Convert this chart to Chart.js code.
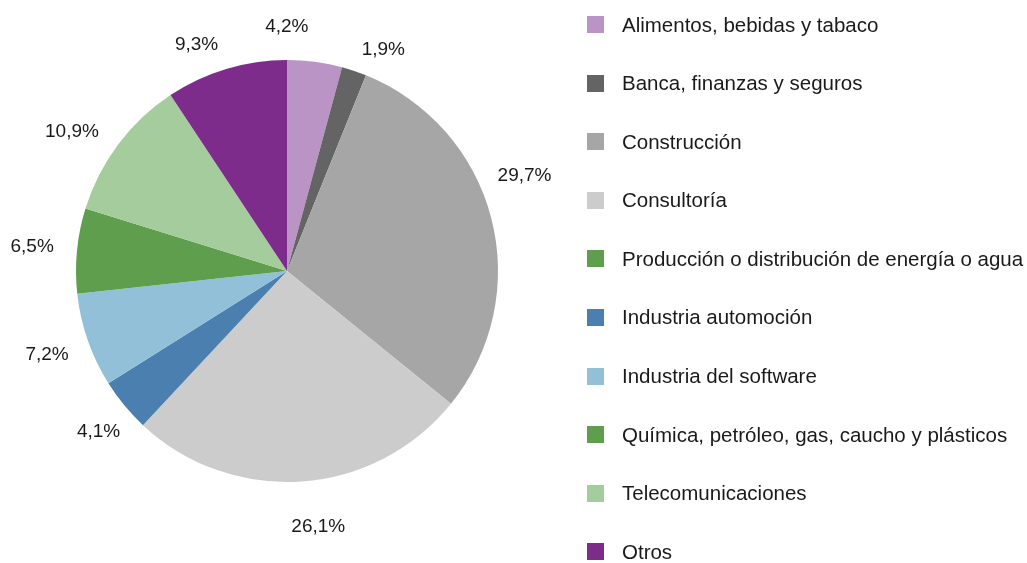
<!DOCTYPE html>
<html lang="es">
<head>
<meta charset="utf-8" />
<title>Sectores</title>
<script src="https://cdn.jsdelivr.net/npm/chart.js"></script>
<style>
  html, body { margin: 0; padding: 0; background: #ffffff; }
  .contenedor { position: relative; width: 1027px; height: 563px; }
  #grafico_sectores { position: absolute; left: 0; top: 0; }
  .leyenda {
    position: absolute; left: 587px; top: -4.8px;
    margin: 0; padding: 0; list-style: none;
    font-family: "Liberation Sans", Arial, sans-serif; font-size: 20.5px; color: #1a1a1a;
  }
  .leyenda li { height: 58.6px; display: flex; align-items: center; white-space: nowrap; }
  .leyenda span.caja { width: 17px; height: 17px; margin-right: 18px; flex: none; }
</style>
</head>
<body>
<div class="contenedor">
  <canvas id="grafico_sectores" width="1027" height="563"></canvas>
  <ul class="leyenda" id="leyenda"></ul>
</div>
<script>
  // Datos del gráfico
  const sectores = [
    "Alimentos, bebidas y tabaco",
    "Banca, finanzas y seguros",
    "Construcción",
    "Consultoría",
    "Producción o distribución de energía o agua",
    "Industria automoción",
    "Industria del software",
    "Química, petróleo, gas, caucho y plásticos",
    "Telecomunicaciones",
    "Otros"
  ];
  const porcentajes = [4.2, 1.9, 29.7, 26.1, 0, 4.1, 7.2, 6.5, 10.9, 9.3];
  const colores = [
    "#b994c5", "#646464", "#a6a6a6", "#cccccc", "#5f9e4d",
    "#4a7fb0", "#93c0d9", "#5f9e4d", "#a4cc9c", "#7d2c8c"
  ];

  // Etiquetas de porcentaje fuera de la tarta
  const etiquetasExteriores = {
    id: "etiquetasExteriores",
    afterDatasetsDraw(chart, args, opts) {
      const ctx = chart.ctx;
      const meta = chart.getDatasetMeta(0);
      ctx.save();
      ctx.font = opts.font;
      ctx.fillStyle = opts.color;
      ctx.textAlign = "center";
      ctx.textBaseline = "middle";
      meta.data.forEach((arc, i) => {
        const v = chart.data.datasets[0].data[i];
        if (!v) return;
        const p = arc.getProps(["x", "y", "startAngle", "endAngle", "outerRadius"], true);
        // pequeño ajuste manual del ángulo y la distancia, como en el original
        const mid = (p.startAngle + p.endAngle) / 2 + (opts.giro[i] || 0) * Math.PI / 180;
        const r = p.outerRadius + (opts.distancia[i] ?? opts.offset);
        const texto = v.toFixed(1).replace(".", ",") + "%";
        ctx.fillText(texto, p.x + Math.cos(mid) * r, p.y + Math.sin(mid) * r);
      });
      ctx.restore();
    }
  };

  new Chart(document.getElementById("grafico_sectores"), {
    type: "pie",
    data: {
      labels: sectores,
      datasets: [{
        data: porcentajes,
        backgroundColor: colores,
        borderWidth: 0
      }]
    },
    options: {
      responsive: false,
      animation: false,
      layout: { padding: { left: 76, right: 529, top: 60, bottom: 81 } },
      plugins: {
        legend: { display: false },
        tooltip: { enabled: false },
        etiquetasExteriores: {
          font: "19px 'Liberation Sans', Arial, sans-serif",
          color: "#1a1a1a",
          offset: 40,
          giro: [-7.6, 5, -7.4, -3, 0, -1, 0, 0, -4, -5],
          distancia: [33, 30, 45, 47, 40, 37, 43, 45, 45, 33]
        }
      }
    },
    plugins: [etiquetasExteriores]
  });

  // Leyenda en HTML
  const ul = document.getElementById("leyenda");
  sectores.forEach((nombre, i) => {
    const li = document.createElement("li");
    li.innerHTML = `<span class="caja" style="background:${colores[i]}"></span>${nombre}`;
    ul.appendChild(li);
  });
</script>
</body>
</html>
